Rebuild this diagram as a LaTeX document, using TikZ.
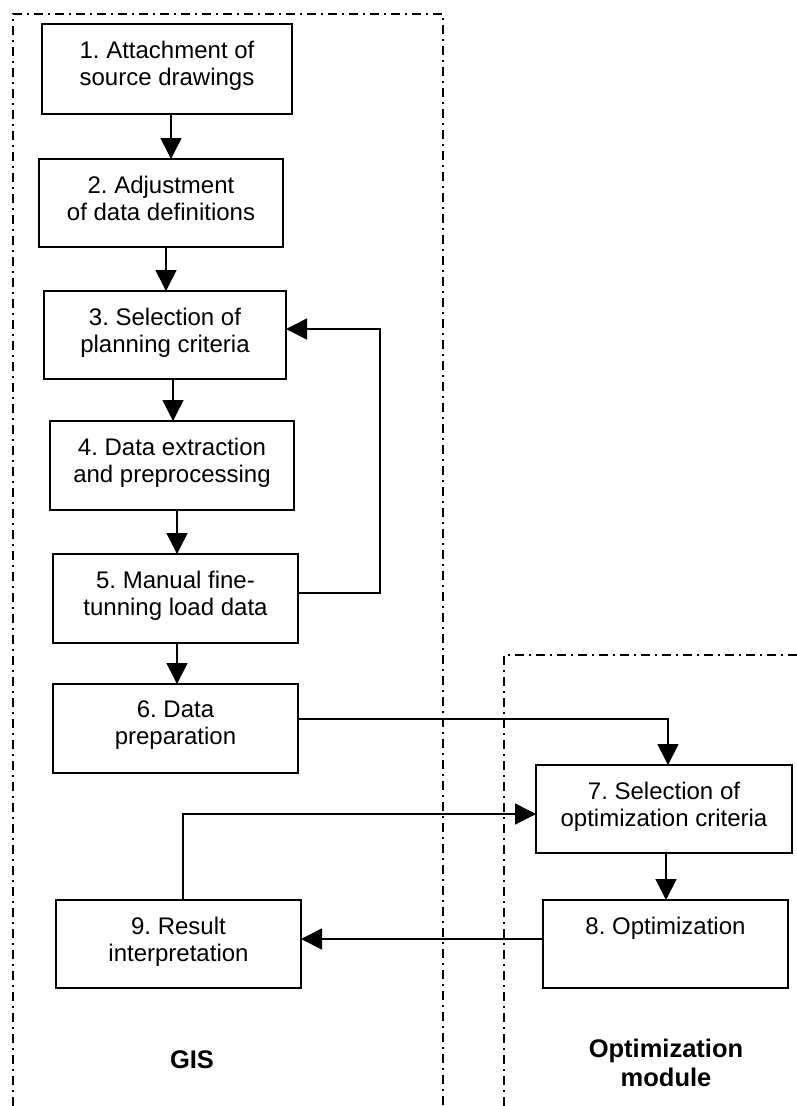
\documentclass[tikz,border=0pt]{standalone}
\usepackage{fontspec}
\setmainfont{Liberation Sans}
\usetikzlibrary{arrows.meta}
\frenchspacing
\begin{document}
\begin{tikzpicture}[x=1pt,y=-1pt,
  box/.style={draw, line width=1.6pt, inner sep=0pt, outer sep=0pt},
  boxtext/.style={anchor=north, inner sep=0pt, align=center,
    font=\fontsize{24}{27}\selectfont, yshift=-16.5pt},
  conn/.style={line width=1.6pt, -{Triangle[length=21pt,width=21pt]}},
  frame/.style={line width=1.5pt, dash pattern=on 9pt off 5pt on 2pt off 5pt},
  title/.style={inner sep=0pt, align=center,
    font=\bfseries\fontsize{25.5}{29}\selectfont}]
\useasboundingbox (0,0) rectangle (797,1106);

% module frames
\draw[frame] (13,1106) -- (13,14) -- (443,14) -- (443,1106);
\draw[frame] (504,1106) -- (504,655) -- (797,655);

% GIS steps
\node[box, minimum width=250pt, minimum height=90pt,
  label={[boxtext]north:{1. Attachment of\\source drawings}}] (b1) at (167,69) {};
\node[box, minimum width=244pt, minimum height=88pt,
  label={[boxtext]north:{2. Adjustment\\of data definitions}}] (b2) at (161,203) {};
\node[box, minimum width=242pt, minimum height=88pt,
  label={[boxtext]north:{3. Selection of\\planning criteria}}] (b3) at (165,335) {};
\node[box, minimum width=244pt, minimum height=89pt,
  label={[boxtext]north:{4. Data extraction\\and preprocessing}}] (b4) at (172,465.5) {};
\node[box, minimum width=245pt, minimum height=89pt,
  label={[boxtext]north:{5. Manual fine-\\tunning load data}}] (b5) at (175.5,598.5) {};
\node[box, minimum width=245pt, minimum height=89pt,
  label={[boxtext]north:{6. Data\\preparation}}] (b6) at (175.5,728.5) {};
\node[box, minimum width=245pt, minimum height=88pt,
  label={[boxtext]north:{9. Result\\interpretation}}] (b9) at (178.5,944) {};

% optimization steps
\node[box, minimum width=256pt, minimum height=88pt,
  label={[boxtext]north:{7. Selection of\\optimization criteria}}] (b7) at (664,809) {};
\node[box, minimum width=245pt, minimum height=88pt,
  label={[boxtext]north:{8. Optimization}}] (b8) at (665.5,944) {};

% module titles
\node[title] (gis) at (192,1060) {GIS};
\node[title] (optmod) at (666,1063) {Optimization\\module};

% flow
\coordinate (fb) at (380,460);
\draw[conn] ([xshift=4pt]b1.south) -- ([xshift=10pt]b2.north);
\draw[conn] ([xshift=5pt]b2.south) -- ([xshift=1pt]b3.north);
\draw[conn] ([xshift=8pt]b3.south) -- ([xshift=1pt]b4.north);
\draw[conn] ([xshift=5pt]b4.south) -- ([xshift=1.5pt]b5.north);
\draw[conn] ([xshift=1.5pt]b5.south) -- ([xshift=1.5pt]b6.north);
\draw[conn] ([yshift=5.5pt]b5.east) -| (fb) |- ([yshift=6pt]b3.east);
\draw[conn] ([yshift=9.5pt]b6.east) -| ([xshift=4pt]b7.north);
\draw[conn] ([xshift=4.5pt]b9.north) |- ([yshift=-5pt]b7.west);
\draw[conn] ([xshift=2pt]b7.south) -- ([xshift=0.5pt]b8.north);
\draw[conn] ([yshift=5pt]b8.west) -- ([yshift=5pt]b9.east);
\end{tikzpicture}
\end{document}
